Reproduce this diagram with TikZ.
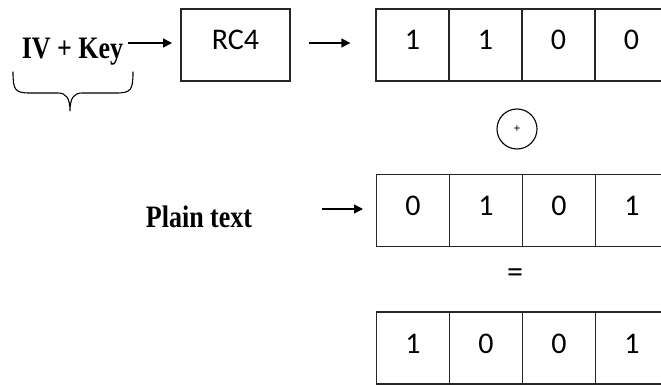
\documentclass[tikz,border=0pt]{standalone}
\usepackage{fontspec}
\setmainfont{Liberation Serif}
\newfontfamily\carl{Carlito}
\usetikzlibrary{arrows.meta}
\tikzset{
  cell/.style={draw=black!85, line width=1.3pt, minimum width=73pt, minimum height=72pt,
    inner sep=0pt, text height=19pt, text depth=9pt, font=\carl\fontsize{30}{30}\selectfont},
  lbl/.style={inner sep=0pt, anchor=base, font=\bfseries\fontsize{26}{26}\selectfont},
  arr/.style={line width=1.3pt, -{Triangle[length=9pt,width=9pt]}}
}
\begin{document}
\begin{tikzpicture}[x=1pt,y=-1pt]
\useasboundingbox (0,0) rectangle (661,385);
\clip (0,0) rectangle (661,385);
% IV + Key
\node[lbl] (iv) at (72.5,59) {\scalebox{1}[1.2]{IV + Key}};
\node[cell, minimum width=109pt] (rc4) at (235.5,45) {RC4};
% top array
\node[cell] (a1) at (412.5,45) {1};
\node[cell] (a2) at (485.5,45) {1};
\node[cell] (a3) at (558.5,45) {0};
\node[cell] (a4) at (631.5,45) {0};
% xor
\node[draw, circle, line width=1.1pt, minimum size=40pt, inner sep=0pt] (xor) at (517,129) {};
\node[inner sep=0pt, font=\bfseries\fontsize{12}{12}\selectfont] (plus) at (xor.center) {+};
% middle array
\node[lbl] (pt) at (199,227) {\scalebox{1}[1.2]{Plain text}};
\node[cell] (b1) at (413,210.5) {0};
\node[cell] (b2) at (486,210.5) {1};
\node[cell] (b3) at (559,210.5) {0};
\node[cell] (b4) at (632,210.5) {1};
% equals
\node[inner sep=0pt, font=\carl\fontsize{32}{32}\selectfont] (eq) at (515,276) {=};
% bottom array
\node[cell] (c1) at (413,348) {1};
\node[cell] (c2) at (486,348) {0};
\node[cell] (c3) at (559,348) {0};
\node[cell] (c4) at (632,348) {1};
% arrows
\coordinate (s1) at (128,43);
\coordinate (e1) at (172,43);
\draw[arr] (s1) -- (e1);
\draw[arr, shorten <=18pt, shorten >=25pt] ([yshift=2pt]rc4.east) -- ([yshift=2pt]a1.west);
\coordinate (s3) at (322,209);
\coordinate (e3) at (363,209);
\draw[arr] (s3) -- (e3);
% brace
\draw[line width=1.1pt, line cap=round]
  (13,72) .. controls (13,90) and (15,93) .. (30,93) -- (58,93)
  .. controls (66,93) and (70,98) .. (70,111)
  .. controls (70,98) and (74,93) .. (82,93) -- (116,93)
  .. controls (131,93) and (133,90) .. (133,72);
\end{tikzpicture}
\end{document}
